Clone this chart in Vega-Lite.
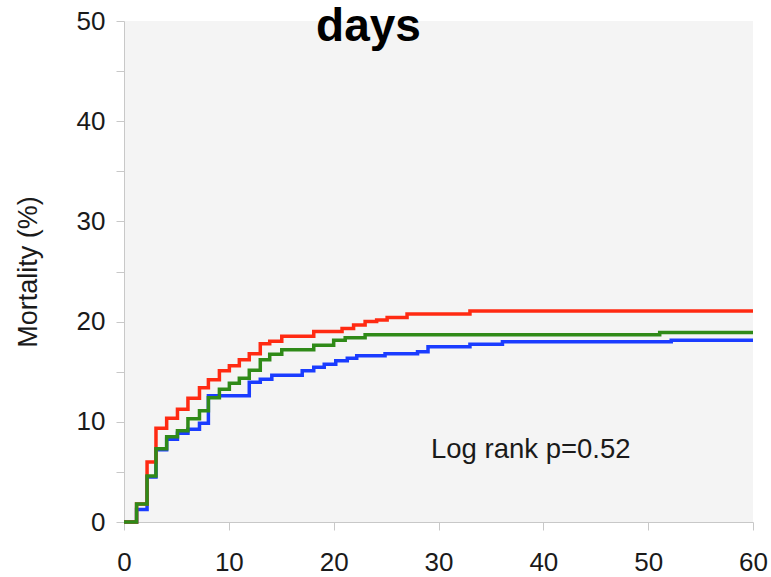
{
  "$schema": "https://vega.github.io/schema/vega-lite/v6.json",
  "autosize": "none",
  "width": 629,
  "height": 501,
  "padding": {"left": 124, "top": 21, "right": 18, "bottom": 55},
  "background": "white",
  "config": {
    "font": "Liberation Sans",
    "view": {"fill": "#f4f4f4", "stroke": null}
  },
  "title": {
    "text": "days",
    "fontSize": 46,
    "fontWeight": "bold",
    "font": "Liberation Sans",
    "color": "black",
    "anchor": "middle",
    "frame": "group",
    "baseline": "alphabetic",
    "offset": -22,
    "dy": 57,
    "dx": -70
  },
  "datasets": {
    "curves": [
      {"g": "red", "t": 0, "v": 0},
      {"g": "red", "t": 1.2, "v": 1.8},
      {"g": "red", "t": 2.2, "v": 6.0},
      {"g": "red", "t": 3.05, "v": 9.35},
      {"g": "red", "t": 4.07, "v": 10.35},
      {"g": "red", "t": 5.1, "v": 11.25},
      {"g": "red", "t": 6.1, "v": 12.35},
      {"g": "red", "t": 7.2, "v": 13.4},
      {"g": "red", "t": 8.05, "v": 14.2},
      {"g": "red", "t": 9.1, "v": 15.1},
      {"g": "red", "t": 10.05, "v": 15.6},
      {"g": "red", "t": 11.0, "v": 16.2},
      {"g": "red", "t": 11.95, "v": 16.8},
      {"g": "red", "t": 13.0, "v": 17.8},
      {"g": "red", "t": 13.9, "v": 18.05},
      {"g": "red", "t": 15.05, "v": 18.55},
      {"g": "red", "t": 18.1, "v": 19.0},
      {"g": "red", "t": 20.8, "v": 19.3},
      {"g": "red", "t": 21.9, "v": 19.65},
      {"g": "red", "t": 23.0, "v": 20.0},
      {"g": "red", "t": 24.1, "v": 20.15},
      {"g": "red", "t": 25.1, "v": 20.4},
      {"g": "red", "t": 27.0, "v": 20.75},
      {"g": "red", "t": 33.0, "v": 21.05},
      {"g": "red", "t": 60, "v": 21.05},
      {"g": "green", "t": 0, "v": 0},
      {"g": "green", "t": 1.2, "v": 1.8},
      {"g": "green", "t": 2.2, "v": 4.6},
      {"g": "green", "t": 3.05, "v": 7.3},
      {"g": "green", "t": 4.07, "v": 8.5},
      {"g": "green", "t": 5.1, "v": 9.1},
      {"g": "green", "t": 6.1, "v": 10.3},
      {"g": "green", "t": 7.2, "v": 11.1},
      {"g": "green", "t": 8.05, "v": 12.4},
      {"g": "green", "t": 9.1, "v": 13.25},
      {"g": "green", "t": 10.05, "v": 13.85},
      {"g": "green", "t": 11.0, "v": 14.35},
      {"g": "green", "t": 11.95, "v": 15.15},
      {"g": "green", "t": 13.0, "v": 16.2},
      {"g": "green", "t": 13.9, "v": 16.75},
      {"g": "green", "t": 15.05, "v": 17.2},
      {"g": "green", "t": 18.1, "v": 17.65},
      {"g": "green", "t": 20.0, "v": 18.15},
      {"g": "green", "t": 21.1, "v": 18.4},
      {"g": "green", "t": 23.0, "v": 18.7},
      {"g": "green", "t": 51.1, "v": 18.9},
      {"g": "green", "t": 60, "v": 18.9},
      {"g": "blue", "t": 0, "v": 0},
      {"g": "blue", "t": 1.2, "v": 1.25},
      {"g": "blue", "t": 2.2, "v": 4.5},
      {"g": "blue", "t": 3.05, "v": 7.2},
      {"g": "blue", "t": 4.07, "v": 8.25},
      {"g": "blue", "t": 5.1, "v": 8.85},
      {"g": "blue", "t": 6.1, "v": 9.25},
      {"g": "blue", "t": 7.2, "v": 9.85},
      {"g": "blue", "t": 8.05, "v": 12.6},
      {"g": "blue", "t": 11.95, "v": 13.95},
      {"g": "blue", "t": 13.0, "v": 14.25},
      {"g": "blue", "t": 14.1, "v": 14.65},
      {"g": "blue", "t": 17.0, "v": 15.1},
      {"g": "blue", "t": 18.1, "v": 15.45},
      {"g": "blue", "t": 19.1, "v": 15.75},
      {"g": "blue", "t": 20.2, "v": 16.1},
      {"g": "blue", "t": 21.3, "v": 16.35},
      {"g": "blue", "t": 22.2, "v": 16.6},
      {"g": "blue", "t": 24.9, "v": 16.8},
      {"g": "blue", "t": 28.0, "v": 17.0},
      {"g": "blue", "t": 29.0, "v": 17.5},
      {"g": "blue", "t": 33.0, "v": 17.75},
      {"g": "blue", "t": 36.1, "v": 18.0},
      {"g": "blue", "t": 52.2, "v": 18.15},
      {"g": "blue", "t": 60, "v": 18.15}
    ],
    "note": [{"t": 38.8, "v": 6.36, "label": "Log rank p=0.52"}]
  },
  "encoding": {
    "x": {
      "field": "t", "type": "quantitative",
      "scale": {"domain": [0, 60], "nice": false, "zero": false},
      "axis": {
        "title": null, "values": [0, 10, 20, 30, 40, 50, 60],
        "grid": false, "domainColor": "#c8c8c8", "tickColor": "#c8c8c8",
        "tickSize": 8, "labelFontSize": 26, "labelColor": "#1a1a1a",
        "labelPadding": 19, "labelFont": "Liberation Sans", "labelFlush": false
      }
    },
    "y": {
      "field": "v", "type": "quantitative",
      "scale": {"domain": [0, 50], "nice": false},
      "axis": {
        "title": "Mortality (%)", "titleFontSize": 27, "titleFontWeight": "normal",
        "titleColor": "#1a1a1a", "titlePadding": 34, "titleFont": "Liberation Sans",
        "values": [0, 5, 10, 15, 20, 25, 30, 35, 40, 45, 50],
        "labelExpr": "datum.value % 10 == 0 ? datum.label : ''",
        "grid": false, "domainColor": "#c8c8c8", "tickColor": "#c8c8c8",
        "tickSize": 8, "labelFontSize": 26, "labelColor": "#1a1a1a",
        "labelPadding": 11, "labelFont": "Liberation Sans"
      }
    }
  },
  "layer": [
    {
      "data": {"name": "curves"},
      "transform": [{"filter": "datum.g == 'blue'"}],
      "mark": {"type": "line", "interpolate": "step-after", "color": "#1a3cff", "strokeWidth": 3.5}
    },
    {
      "data": {"name": "curves"},
      "transform": [{"filter": "datum.g == 'red'"}],
      "mark": {"type": "line", "interpolate": "step-after", "color": "#ff2a12", "strokeWidth": 3.5}
    },
    {
      "data": {"name": "curves"},
      "transform": [{"filter": "datum.g == 'green'"}],
      "mark": {"type": "line", "interpolate": "step-after", "color": "#2f8a18", "strokeWidth": 3.5}
    },
    {
      "data": {"name": "note"},
      "mark": {"type": "text", "fontSize": 27.5, "color": "#1a1a1a", "align": "center", "baseline": "alphabetic", "font": "Liberation Sans"},
      "encoding": {"text": {"field": "label"}}
    }
  ]
}
